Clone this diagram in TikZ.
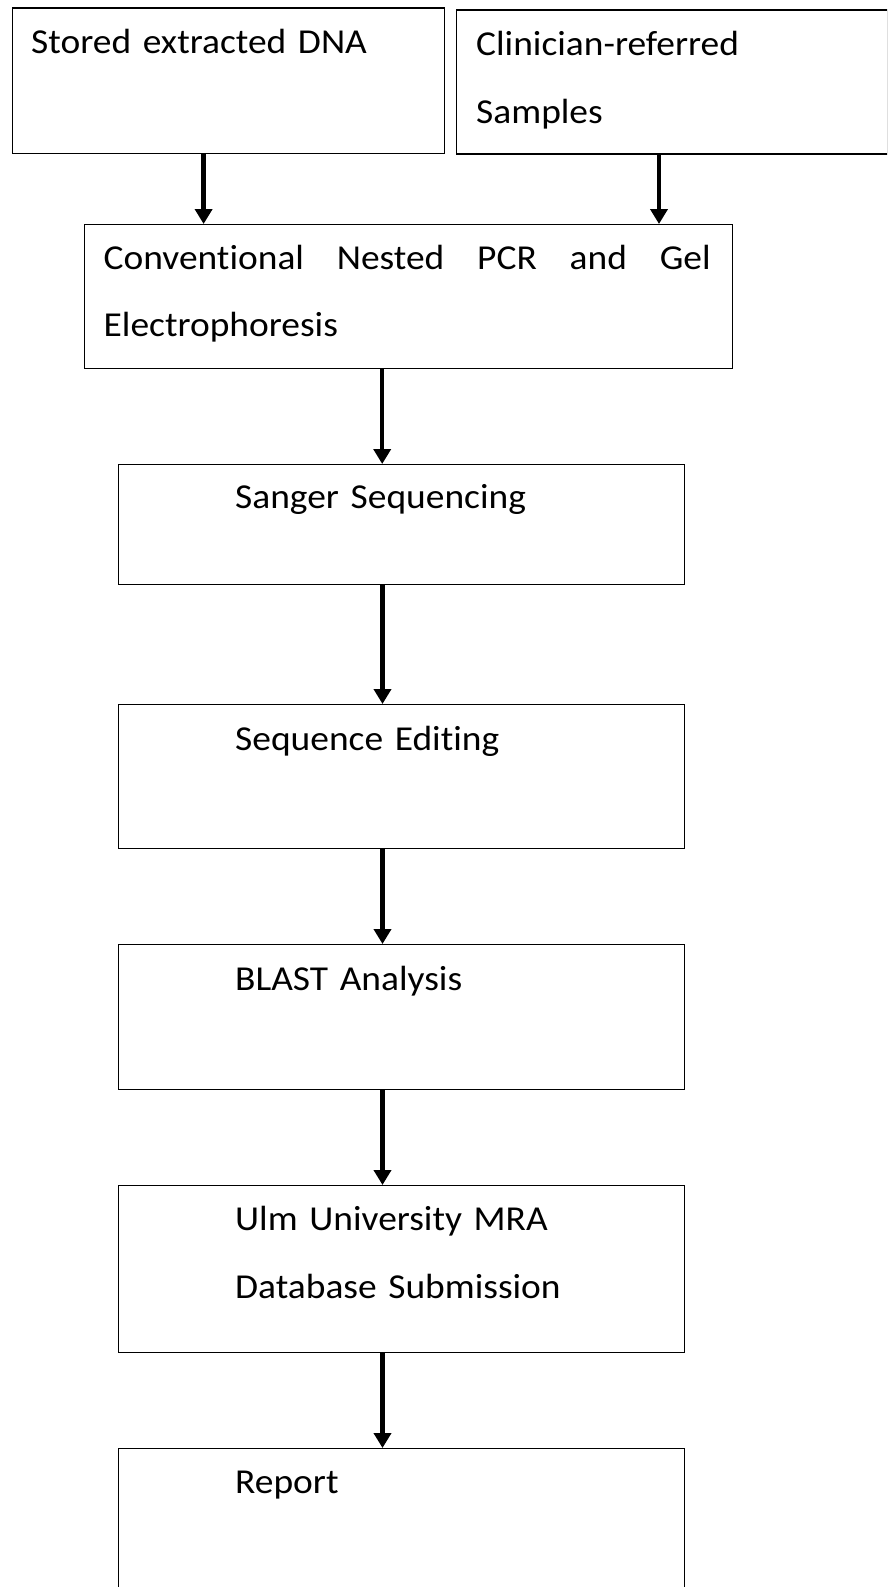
\documentclass[tikz,border=0pt]{standalone}
\usepackage{fontspec}
\setmainfont{Carlito}[FakeStretch=1.07, Ligatures={NoCommon}]
\usetikzlibrary{arrows.meta}
\usetikzlibrary{positioning}
\newcommand\boxfont{\fontsize{35}{67.5}\selectfont\spaceskip=7pt plus 30pt minus 0pt\relax}

\begin{document}
\begin{tikzpicture}[x=1pt,y=-1pt,
  box/.style={draw, line width=1.3pt, rectangle, inner sep=0pt, anchor=north west},
  lbl/.style={anchor=base west, inner sep=0pt, text width=420pt, align=left, font=\boxfont},
  arr/.style={line width=4.5pt, -{Triangle[width=17pt,length=15pt]}}]
\clip (0,0) rectangle (887,1587); % page size

% boxes
\node[box, minimum width=432.5pt, minimum height=145pt] (dna) at (11.5,7.5) {};
\node[box, minimum width=430.5pt, minimum height=144pt] (clin) at (456,9.3) {};
\node[box, minimum width=648.3pt, minimum height=144pt] (pcr) at (83.7,224) {};
\node[box, minimum width=566pt, minimum height=120pt] (sanger) at (118,464) {};
\node[box, minimum width=566pt, minimum height=144pt] (edit) at (118,704) {};
\node[box, minimum width=566pt, minimum height=144.5pt] (blast) at (118,944) {};
\node[box, minimum width=566pt, minimum height=167pt] (ulm) at (118,1185) {};
\node[box, minimum width=566pt, minimum height=200pt] (report) at (118,1448) {}; % runs off the page

% texts
\node[lbl] (dnatxt) at (31,53) {Stored extracted DNA};
\node[lbl] (clintxt) at (476,56) {Clinician-referred\\Samples};
\node[lbl, text width=607pt, align=justify] (pcrtxt) at (103.5,269) {Conventional Nested PCR and Gel \mbox{Electrophoresis}};
\node[lbl] (sangertxt) at (235,508.5) {Sanger Sequencing};
\node[lbl] (edittxt) at (235,750) {Sequence Editing};
\node[lbl] (blasttxt) at (235,990) {BLAST Analysis};
\node[lbl] (ulmtxt) at (235,1230.7) {Ulm University MRA\\Database Submission};
\node[lbl] (reporttxt) at (235,1493) {Report};

% arrows
\coordinate (d1) at ([xshift=192.1pt]dna.south west);
\coordinate (c1) at ([xshift=203pt]clin.south west);
\coordinate (p1) at ([xshift=298.5pt]pcr.south west);
\draw[arr] (d1) -- (d1 |- pcr.north);
\draw[arr] (c1) -- (c1 |- pcr.north);
\draw[arr] (p1) -- (p1 |- sanger.north);
\foreach \a/\b in {sanger/edit, edit/blast, blast/ulm, ulm/report}
  \draw[arr] ([xshift=264.5pt]\a.south west) -- ([xshift=264.5pt]\b.north west);
\end{tikzpicture}
\end{document}
